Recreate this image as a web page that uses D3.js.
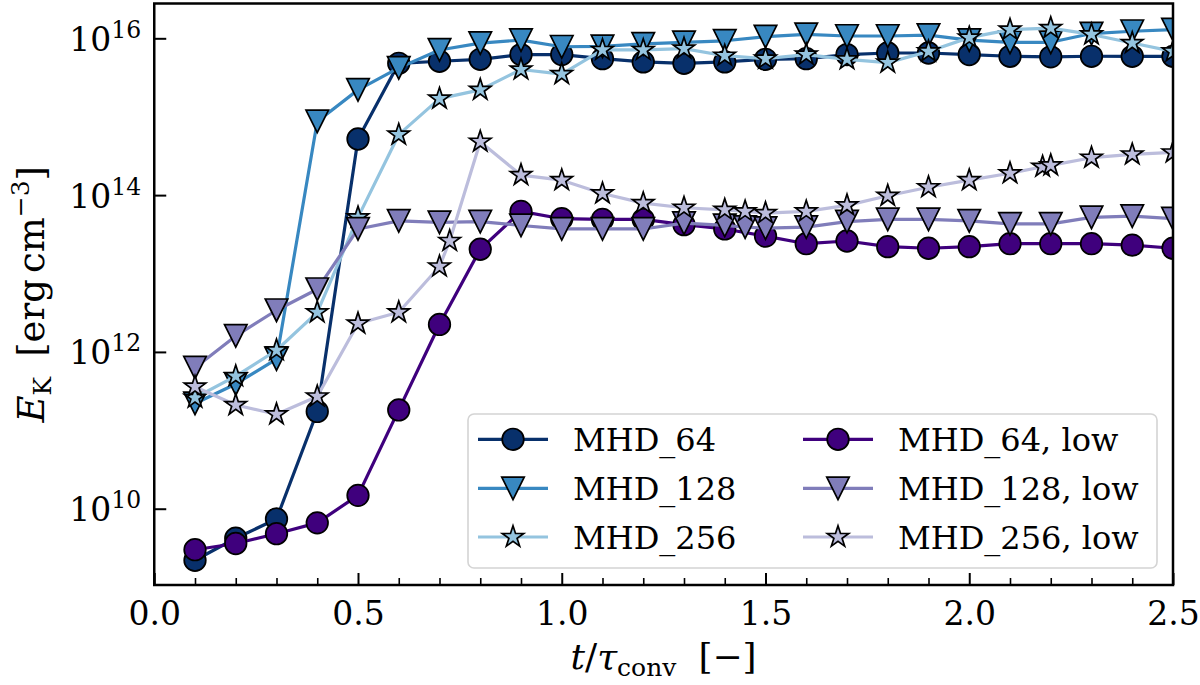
<!DOCTYPE html>
<html>
<head>
<meta charset="utf-8">
<script src="https://cdn.jsdelivr.net/npm/d3@7"></script>
<style>
  html, body { margin: 0; padding: 0; background: #ffffff; }
  svg { display: block; }
  text { font-family: "DejaVu Serif", serif; fill: #000; }
</style>
</head>
<body>
<svg id="chart" width="1200" height="685"></svg>
<script>
// ---------------- data (E_K in erg cm^-3) ----------------
const times = [0.1, 0.2, 0.3, 0.4, 0.5, 0.6, 0.7, 0.8, 0.9, 1.0, 1.1, 1.2, 1.3,
               1.4, 1.5, 1.6, 1.7, 1.8, 1.9, 2.0, 2.1, 2.2, 2.3, 2.4, 2.5];
const timesLow128 = [0.1, 0.2, 0.3, 0.4, 0.5, 0.6, 0.7, 0.8, 0.9, 1.0, 1.1, 1.2, 1.3,
               1.4, 1.45, 1.5, 1.6, 1.7, 1.8, 1.9, 2.0, 2.1, 2.2, 2.3, 2.4, 2.5];
const timesLow256 = [0.1, 0.2, 0.3, 0.4, 0.5, 0.6, 0.7, 0.725, 0.8, 0.9, 1.0, 1.1, 1.2, 1.3,
               1.4, 1.45, 1.5, 1.6, 1.7, 1.8, 1.9, 2.0, 2.1, 2.18, 2.2, 2.3, 2.4, 2.5];

const mhd64 = [2.2e9, 4.2e9, 7.4e9, 1.74e11, 5.2e14, 4.8e15, 5.1e15, 5.4e15, 6.2e15, 6.2e15,
               5.5e15, 5.0e15, 4.8e15, 5.0e15, 5.4e15, 5.5e15, 6.2e15, 6.5e15, 6.5e15, 6.2e15,
               5.9e15, 5.8e15, 5.9e15, 5.9e15, 5.9e15];
const mhd128 = [2.2e11, 3.9e11, 8.1e11, 8.7e14, 2.2e15, 4.2e15, 7.1e15, 8.7e15, 9.5e15, 7.8e15,
                7.9e15, 8.5e15, 8.9e15, 9.3e15, 1.05e16, 1.12e16, 1.07e16, 1.07e16, 1.10e16, 9.5e15,
                8.9e15, 8.9e15, 1.15e16, 1.23e16, 1.29e16];
const mhd256 = [2.6e11, 4.9e11, 1.05e12, 3.2e12, 5.2e13, 5.9e14, 1.7e15, 2.2e15, 4.0e15, 3.5e15,
                7.1e15, 7.1e15, 7.4e15, 6.0e15, 5.5e15, 6.2e15, 5.4e15, 4.9e15, 6.8e15, 1.02e16,
                1.29e16, 1.35e16, 1.12e16, 8.7e15, 6.8e15];
const mhd64Low = [3.0e9, 3.6e9, 4.8e9, 6.6e9, 1.48e10, 1.82e11, 2.24e12, 2.04e13, 6.2e13, 5.0e13,
                  4.9e13, 4.9e13, 4.2e13, 3.7e13, 3.0e13, 2.4e13, 2.6e13, 2.2e13, 2.1e13, 2.2e13,
                  2.4e13, 2.4e13, 2.4e13, 2.3e13, 2.1e13];
const mhd128Low = [6.3e11, 1.6e12, 3.4e12, 6.3e12, 3.7e13, 4.7e13, 4.5e13, 4.6e13, 4.1e13, 3.7e13,
                   3.7e13, 3.7e13, 4.4e13, 4.1e13, 3.9e13, 3.8e13, 3.9e13, 4.6e13, 4.9e13, 4.9e13,
                   4.7e13, 4.3e13, 4.3e13, 5.2e13, 5.4e13, 5.0e13];
const mhd256Low = [3.6e11, 2.1e11, 1.6e11, 2.7e11, 2.3e12, 3.2e12, 1.23e13, 2.6e13, 4.8e14, 1.8e14,
                   1.55e14, 1.05e14, 7.9e13, 6.9e13, 6.5e13, 6.2e13, 5.9e13, 6.2e13, 7.4e13, 9.8e13,
                   1.26e14, 1.55e14, 1.9e14, 2.3e14, 2.4e14, 3.0e14, 3.3e14, 3.5e14];

const seriesNames = ["MHD_64", "MHD_128", "MHD_256", "MHD_64, low", "MHD_128, low", "MHD_256, low"];
const seriesColors = ["#08306b", "#3888c1", "#94c4df", "#3f007d", "#807dba", "#bcbddc"];
const seriesMarkers = ["circle", "triangle", "star", "circle", "triangle", "star"];

const xMajorTicks = [0.0, 0.5, 1.0, 1.5, 2.0, 2.5];
const xMinorTicks = [0.1, 0.2, 0.3, 0.4, 0.6, 0.7, 0.8, 0.9, 1.1, 1.2, 1.3, 1.4,
                     1.6, 1.7, 1.8, 1.9, 2.1, 2.2, 2.3, 2.4];
const yTickExponents = [10, 12, 14, 16];

const series = [
  { name: seriesNames[0], t: times,       v: mhd64 },
  { name: seriesNames[1], t: times,       v: mhd128 },
  { name: seriesNames[2], t: times,       v: mhd256 },
  { name: seriesNames[3], t: times,       v: mhd64Low },
  { name: seriesNames[4], t: timesLow128, v: mhd128Low },
  { name: seriesNames[5], t: timesLow256, v: mhd256Low }
].map((s, i) => ({ ...s, color: seriesColors[i], marker: seriesMarkers[i],
                   pts: s.t.map((tt, j) => [tt, s.v[j]]) }));

// ---------------- layout ----------------
const W = 1200, H = 685;
const L = 154.25, R = 1173, T = 3.5, B = 585;
const svg = d3.select("#chart");

const x = d3.scaleLinear().domain([0, 2.5]).range([L, R]);
const y = d3.scaleLog().domain([Math.pow(10, 9.027), Math.pow(10, 16.444)]).range([B, T]);

svg.append("rect").attr("width", W).attr("height", H).attr("fill", "#fff");

svg.append("defs").append("clipPath").attr("id", "plotclip")
  .append("rect").attr("x", L).attr("y", T).attr("width", R - L).attr("height", B - T);

// marker paths
const MS = 22.5;
function markerPath(type, size) {
  const h = size / 2;
  if (type === "circle") {
    const p = d3.path(); p.arc(0, 0, h * 0.96, 0, 2 * Math.PI); p.closePath(); return p.toString();
  }
  if (type === "triangle") {
    return `M0,${h}L${-h},${-h}L${h},${-h}Z`;
  }
  // star
  const Ro = h * 1.0, Ri = Ro * 0.381966;
  const p = d3.path();
  for (let k = 0; k < 10; k++) {
    const r = k % 2 === 0 ? Ro : Ri;
    const a = -Math.PI / 2 + k * Math.PI / 5;
    const px = r * Math.cos(a), py = r * Math.sin(a);
    if (k === 0) p.moveTo(px, py); else p.lineTo(px, py);
  }
  p.closePath();
  return p.toString();
}

const line = d3.line().x(d => x(d[0])).y(d => y(d[1]));

const plot = svg.append("g").attr("clip-path", "url(#plotclip)");
series.forEach(s => {
  const g = plot.append("g");
  g.append("path").attr("d", line(s.pts)).attr("fill", "none")
    .attr("stroke", s.color).attr("stroke-width", 3.2)
    .attr("stroke-linejoin", "round").attr("stroke-linecap", "butt");
  g.selectAll("path.m").data(s.pts).enter().append("path").attr("class", "m")
    .attr("d", markerPath(s.marker, MS))
    .attr("transform", d => `translate(${x(d[0])},${y(d[1])})`)
    .attr("fill", s.color).attr("stroke", "#000").attr("stroke-width", 1.7)
    .attr("stroke-linejoin", "miter");
});

// ---------------- axes ----------------
const xAxisMajor = d3.axisBottom(x).tickValues(xMajorTicks).tickSizeInner(-12).tickSizeOuter(0)
  .tickFormat(d3.format(".1f"));
const gx = svg.append("g").attr("transform", `translate(0,${B})`).call(xAxisMajor);
gx.select(".domain").remove();
gx.selectAll("line").attr("stroke", "#000").attr("stroke-width", 2);
gx.selectAll("text").attr("y", 40).attr("dy", null)
  .style("font-size", "33px").style("font-family", "'DejaVu Serif', serif").attr("fill", "#000");

const xAxisMinor = d3.axisBottom(x).tickValues(xMinorTicks).tickSizeInner(-7).tickSizeOuter(0)
  .tickFormat(() => "");
const gxm = svg.append("g").attr("transform", `translate(0,${B})`).call(xAxisMinor);
gxm.select(".domain").remove();
gxm.selectAll("line").attr("stroke", "#000").attr("stroke-width", 1.6);

const yTickVals = yTickExponents.map(e => Math.pow(10, e));
const yAxis = d3.axisLeft(y).tickValues(yTickVals).tickSizeInner(-12).tickSizeOuter(0)
  .tickFormat(() => "");
const gy = svg.append("g").attr("transform", `translate(${L},0)`).call(yAxis);
gy.select(".domain").remove();
gy.selectAll("line").attr("stroke", "#000").attr("stroke-width", 2);
gy.selectAll(".tick text").remove();

// y tick labels 10^n
yTickExponents.forEach(e => {
  const ty = y(Math.pow(10, e));
  const t = svg.append("text").attr("x", L - 13).attr("y", ty + 12.5)
    .attr("text-anchor", "end").style("font-size", "33px");
  t.append("tspan").text("10");
  t.append("tspan").attr("dy", -13).style("font-size", "23.5px").text(String(e));
});

// spines
svg.append("rect").attr("x", L).attr("y", T).attr("width", R - L).attr("height", B - T)
  .attr("fill", "none").attr("stroke", "#000").attr("stroke-width", 2.5);

// ---------------- axis labels ----------------
const xl = svg.append("text").attr("x", (L + R) / 2).attr("y", 669)
  .attr("text-anchor", "middle").style("font-size", "36px");
xl.append("tspan").style("font-style", "italic").text("t");
xl.append("tspan").text("/");
xl.append("tspan").style("font-style", "italic").text("τ");
xl.append("tspan").attr("dy", 7).style("font-size", "25px").text("conv");
xl.append("tspan").attr("dy", -7).attr("dx", 22).text("[−]");

const yl = svg.append("text")
  .attr("transform", `translate(44,${(T + B) / 2}) rotate(-90)`)
  .attr("text-anchor", "middle").style("font-size", "37px");
yl.append("tspan").style("font-style", "italic").text("E");
yl.append("tspan").attr("dy", 7).style("font-size", "25px").text("K");
yl.append("tspan").attr("dy", -7).attr("dx", 20).text("[erg");
yl.append("tspan").attr("dx", 6).text("cm");
yl.append("tspan").attr("dy", -15).style("font-size", "25px").text("−3");
yl.append("tspan").attr("dy", 15).text("]");

// ---------------- legend ----------------
const leg = svg.append("g");
leg.append("rect").attr("x", 468).attr("y", 414).attr("width", 1157 - 468).attr("height", 568 - 414)
  .attr("rx", 6).attr("ry", 6).attr("fill", "rgba(255,255,255,0.8)")
  .attr("stroke", "#d4d4d4").attr("stroke-width", 1.6);

const colX = [478, 803];
const rowY = [439.3, 488.3, 537];
series.forEach((s, i) => {
  const cx = colX[Math.floor(i / 3)], cy = rowY[i % 3];
  const g = leg.append("g");
  g.append("line").attr("x1", cx).attr("x2", cx + 70).attr("y1", cy).attr("y2", cy)
    .attr("stroke", s.color).attr("stroke-width", 3.2);
  g.append("path").attr("d", markerPath(s.marker, MS))
    .attr("transform", `translate(${cx + 35},${cy})`)
    .attr("fill", s.color).attr("stroke", "#000").attr("stroke-width", 1.7);
  g.append("text").attr("x", cx + 95).attr("y", cy + 11.7)
    .style("font-size", "32px").text(s.name);
});
</script>
</body>
</html>
